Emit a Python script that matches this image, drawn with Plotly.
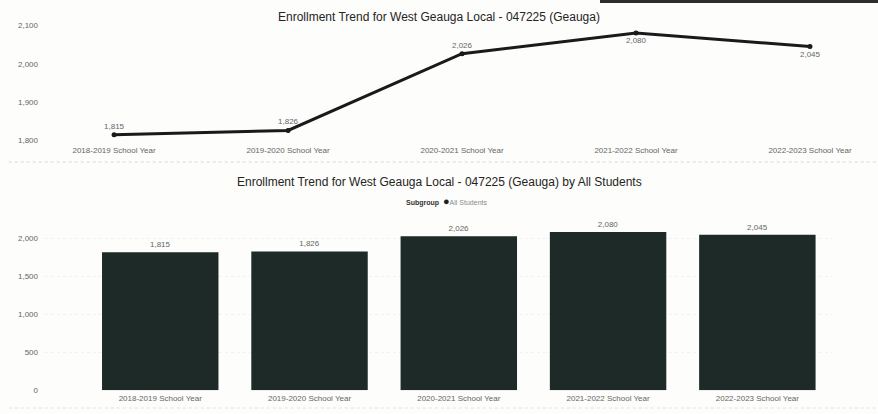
import plotly.graph_objects as go

years = ["2018-2019 School Year", "2019-2020 School Year", "2020-2021 School Year",
         "2021-2022 School Year", "2022-2023 School Year"]
enrollment = [1815, 1826, 2026, 2080, 2045]
line_label_pos = ["top center", "top center", "top center", "bottom center", "bottom center"]
subgroup = "All Students"

title_top = "Enrollment Trend for West Geauga Local - 047225 (Geauga)"
title_bottom = "Enrollment Trend for West Geauga Local - 047225 (Geauga) by All Students"

W, H = 878, 414
FONT = "Liberation Sans, Arial, sans-serif"
GRAY = "#666666"
DARK = "#252423"
BAR = "#1e2a27"


def py(px):
    return 1 - px / H


def pxx(px):
    return px / W


fig = go.Figure()

# Top line chart
fig.add_trace(go.Scatter(
    x=list(range(len(years))), y=enrollment, mode="lines+markers+text",
    line=dict(color="#1a1a1a", width=3), marker=dict(color="#1a1a1a", size=5),
    text=[f"{v:,}" for v in enrollment], textposition=line_label_pos,
    textfont=dict(family=FONT, size=8, color=GRAY),
    xaxis="x", yaxis="y", showlegend=False, cliponaxis=False,
))

# Bottom bar chart
fig.add_trace(go.Bar(
    x=list(range(len(years))), y=enrollment, name=subgroup,
    marker=dict(color=BAR, line=dict(width=0)),
    width=0.78, text=[f"{v:,}" for v in enrollment], textposition="outside",
    textfont=dict(family=FONT, size=8, color=GRAY),
    xaxis="x2", yaxis="y2", showlegend=False, cliponaxis=False,
))

axis_common = dict(showline=False, zeroline=False, ticks="",
                   tickfont=dict(family=FONT, size=8, color=GRAY))

legend_text = ("<b>Subgroup</b>  <span style='color:#1e1e1e;font-size:11px'>●</span>"
               f"<span style='color:#8a8a8a'>{subgroup}</span>")

fig.update_layout(
    width=W, height=H, margin=dict(l=0, r=0, t=0, b=0),
    paper_bgcolor="#fdfdfb", plot_bgcolor="rgba(0,0,0,0)",
    font=dict(family=FONT), showlegend=False,
    xaxis=dict(domain=[pxx(45), pxx(870)], range=[-0.397, 4.345],
               tickvals=list(range(len(years))), ticktext=years,
               showgrid=False, anchor="y", **axis_common),
    yaxis=dict(domain=[py(146), py(21)], range=[1790, 2112],
               tickvals=[1800, 1900, 2000, 2100], tickformat=",",
               showgrid=False, anchor="x", ticklabelstandoff=6, **axis_common),
    xaxis2=dict(domain=[pxx(45), pxx(832)], range=[-0.772, 4.5],
                tickvals=list(range(len(years))), ticktext=years,
                showgrid=False, anchor="y2", ticklabelstandoff=2, **axis_common),
    yaxis2=dict(domain=[py(395), py(218)], range=[0, 2300],
                tickvals=[0, 500, 1000, 1500, 2000], tickformat=",",
                showgrid=True, gridcolor="#f2f2f2", griddash="dot",
                anchor="x2", ticklabelstandoff=6, **axis_common),
    annotations=[
        dict(text=title_top, x=0.5, y=py(17), xref="paper", yref="paper",
             showarrow=False, font=dict(family=FONT, size=12, color=DARK),
             xanchor="center", yanchor="middle"),
        dict(text=title_bottom, x=0.5, y=py(184), xref="paper", yref="paper",
             showarrow=False, font=dict(family=FONT, size=12, color=DARK),
             xanchor="center", yanchor="middle"),
        dict(text=legend_text, x=pxx(446), y=py(203), xref="paper", yref="paper",
             showarrow=False, font=dict(family=FONT, size=7, color="#333333"),
             xanchor="center", yanchor="middle"),
    ],
    shapes=[
        dict(type="rect", xref="paper", yref="paper", x0=pxx(600), x1=1, y0=py(3), y1=1,
             fillcolor="#2e2e2e", line=dict(width=0)),
        dict(type="line", xref="paper", yref="paper", x0=0.01, x1=1, y0=py(164), y1=py(164),
             line=dict(color="#d8d8d4", width=1, dash="dot")),
        dict(type="line", xref="paper", yref="paper", x0=0.01, x1=1, y0=py(413), y1=py(413),
             line=dict(color="#e2e2de", width=1, dash="dot")),
    ],
)

fig.write_html("out.html")
